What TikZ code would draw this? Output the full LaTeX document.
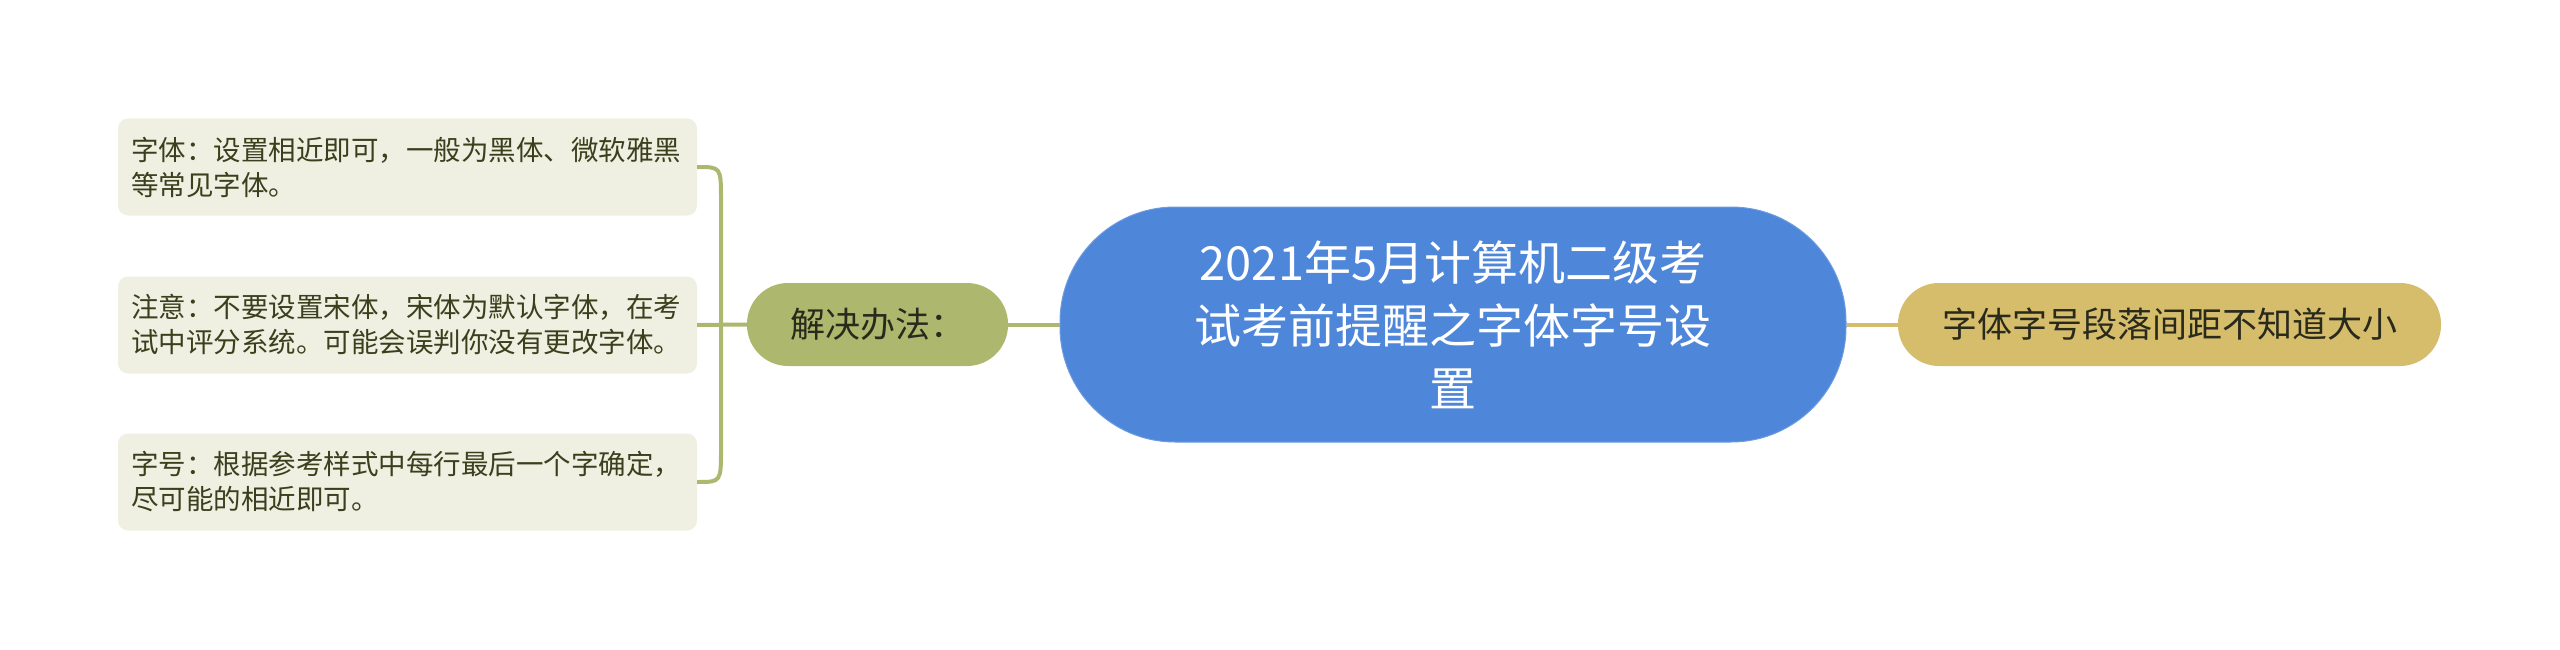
\documentclass[tikz,border=0pt]{standalone}
\usepackage{fontspec}
\setmainfont{Noto Sans CJK SC}
\definecolor{cblue}{HTML}{4E86D9}
\definecolor{cblueb}{HTML}{6C9BE0}
\definecolor{olive}{HTML}{ADB86E}
\definecolor{gold}{HTML}{D5BD6B}
\definecolor{leaffill}{HTML}{EFEFE2}
\definecolor{leaftext}{HTML}{3A3F1C}
\definecolor{darktext}{HTML}{2A2A1C}
\tikzset{
  centralbox/.style={draw=cblueb, line width=1pt, fill=cblue, text=white, minimum width=786pt, minimum height=235pt, rounded corners=115pt, inner sep=0pt, align=center, font=\fontsize{47pt}{63pt}\selectfont},
  branchbox/.style={fill=olive, text=darktext, minimum width=261pt, minimum height=83pt, rounded corners=41pt, inner sep=0pt, font=\fontsize{35pt}{42pt}\selectfont},
  goldbox/.style={fill=gold, text=darktext, minimum width=543pt, minimum height=83pt, rounded corners=41pt, inner sep=0pt, font=\fontsize{35pt}{42pt}\selectfont},
  leafbox/.style={fill=leaffill, text=leaftext, text width=553pt, inner xsep=13pt, inner ysep=0pt, minimum height=97pt, rounded corners=10pt, align=left, font=\fontsize{27.5pt}{35pt}\selectfont},
  olivelink/.style={draw=olive, line width=4pt},
  goldlink/.style={draw=gold, line width=4pt}
}
\begin{document}
\begin{tikzpicture}[x=1pt,y=-1pt]
\useasboundingbox (0,0) rectangle (2560,650);
\node[centralbox] (c) at (1453,324.5) {2021年5月计算机二级考\\试考前提醒之字体字号设\\置};
\node[branchbox] (b) at (877.5,324.5) {解决办法：};
\node[goldbox] (g) at (2169.5,324.5) {字体字号段落间距不知道大小};
\node[leafbox] (l1) at (407.5,167) {字体：设置相近即可，一般为黑体、微软雅黑\\等常见字体。};
\node[leafbox] (l2) at (407.5,325) {注意：不要设置宋体，宋体为默认字体，在考\\试中评分系统。可能会误判你没有更改字体。};
\node[leafbox] (l3) at (407.5,482) {字号：根据参考样式中每行最后一个字确定，\\尽可能的相近即可。};
\coordinate (jt) at (721,200);
\coordinate (jb) at (721,449);
\draw[olivelink] (c.west) -- (b.east);
\draw[goldlink] (c.east) -- (g.west);
\draw[olivelink] (l1.east) .. controls (l1.east -| jt) .. (jt) -- (jb) .. controls (l3.east -| jb) .. (l3.east);
\draw[olivelink] (l2.east) -- (b.west);
\end{tikzpicture}
\end{document}
